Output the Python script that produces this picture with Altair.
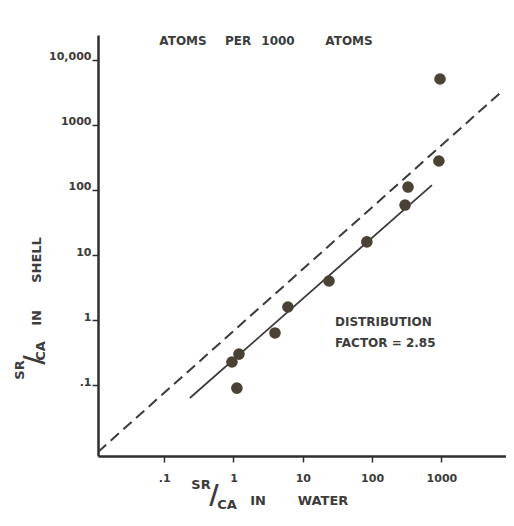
import altair as alt
import pandas as pd

# Sr/Ca in water vs Sr/Ca in shell (atoms per 1000 atoms)
water = [955, 920, 330, 299, 84, 23.9, 6.1, 3.97, 1.2, 0.95, 1.12]
shell = [5080, 279, 111, 58.7, 15.9, 3.99, 1.59, 0.634, 0.30, 0.227, 0.090]

# dashed reference line (end points)
dashed_water = [0.0111, 7020]
dashed_shell = [0.0094, 3090]
# solid fitted line (end points)
fit_water = [0.235, 731]
fit_shell = [0.0635, 119]

x_ticks = [0.1, 1, 10, 100, 1000]
x_tick_labels = [".1", "1", "10", "100", "1000"]
y_ticks = [0.1, 1, 10, 100, 1000, 10000]
y_tick_labels = [".1", "1", "10", "100", "1000", "10,000"]

FONT = "DejaVu Sans"
INK = "#3c3c3c"
AXIS_INK = "#2e2e2e"
DOT = "#4a4234"


def label_expr(vals, labels):
    expr = "''"
    for v, t in reversed(list(zip(vals, labels))):
        expr = f"(abs(datum.value - {v}) < {v} * 0.001 ? '{t}' : {expr})"
    return expr


x_scale = alt.Scale(type="log", domain=[0.0111, 8550], nice=False)
y_scale = alt.Scale(type="log", domain=[0.00815, 24100], nice=False)

x_axis = alt.Axis(
    values=x_ticks, labelExpr=label_expr(x_ticks, x_tick_labels), title=None,
    grid=False, domainColor=AXIS_INK, domainWidth=2.5, tickColor=AXIS_INK,
    tickWidth=1.5, tickSize=6, labelPadding=10, labelFont=FONT, labelFontSize=11,
    labelFontWeight="bold", labelColor=INK,
)
y_axis = alt.Axis(
    values=y_ticks, labelExpr=label_expr(y_ticks, y_tick_labels), title=None,
    grid=False, domainColor=AXIS_INK, domainWidth=2.5, tickColor=AXIS_INK,
    tickWidth=1.5, tickSize=6, labelPadding=1, labelFont=FONT, labelFontSize=11,
    labelFontWeight="bold", labelColor=INK, labelBaseline="alphabetic",
    labelAlign="right",
)


def xy():
    return dict(
        x=alt.X("water:Q", scale=x_scale, axis=x_axis),
        y=alt.Y("shell:Q", scale=y_scale, axis=y_axis),
    )


pts = pd.DataFrame({"water": water, "shell": shell})
dash_df = pd.DataFrame({"water": dashed_water, "shell": dashed_shell})
fit_df = pd.DataFrame({"water": fit_water, "shell": fit_shell})

dashed = alt.Chart(dash_df).mark_line(
    color="#3a3a3a", strokeWidth=2, strokeDash=[11, 6]
).encode(**xy())
fit = alt.Chart(fit_df).mark_line(color="#3a3a3a", strokeWidth=1.8).encode(**xy())
dots = alt.Chart(pts).mark_point(
    filled=True, shape="circle", size=135, color=DOT, opacity=1
).encode(**xy())


def label(text, x, y, size=12, angle=0, align="center"):
    return alt.Chart(alt.Data(values=[{}])).mark_text(
        text=text, fontSize=size, angle=angle, align=align, baseline="middle",
        font=FONT, fontWeight="bold", color=INK,
    ).encode(x=alt.value(x), y=alt.value(y))


texts = [
    label("ATOMS", 85, 6),
    label("PER", 140, 6),
    label("1000", 180, 6),
    label("ATOMS", 251, 6),
    label("DISTRIBUTION", 237, 287, align="left"),
    label("FACTOR = 2.85", 237, 308, align="left"),
    # x title
    label("SR", 103, 450, size=13),
    label("/", 116, 461, size=26),
    label("CA", 129, 470, size=13),
    label("IN", 160, 466, size=13),
    label("WATER", 225, 466, size=13),
    # y title
    label("SR", -78, 335, size=13, angle=270),
    label("/", -63, 325, size=26, angle=270),
    label("CA", -57, 316, size=13, angle=270),
    label("IN", -61, 283, size=13, angle=270),
    label("SHELL", -61, 225, size=13, angle=270),
]

chart = alt.layer(dashed, fit, dots, *texts).properties(
    width=408, height=421,
    autosize=alt.AutoSizeParams(type="none"),
    padding={"left": 90, "top": 27, "right": 0, "bottom": 57},
    background="white",
).configure_view(stroke=None)

chart.save("out.html", embed_options={"renderer": "svg", "actions": False})
